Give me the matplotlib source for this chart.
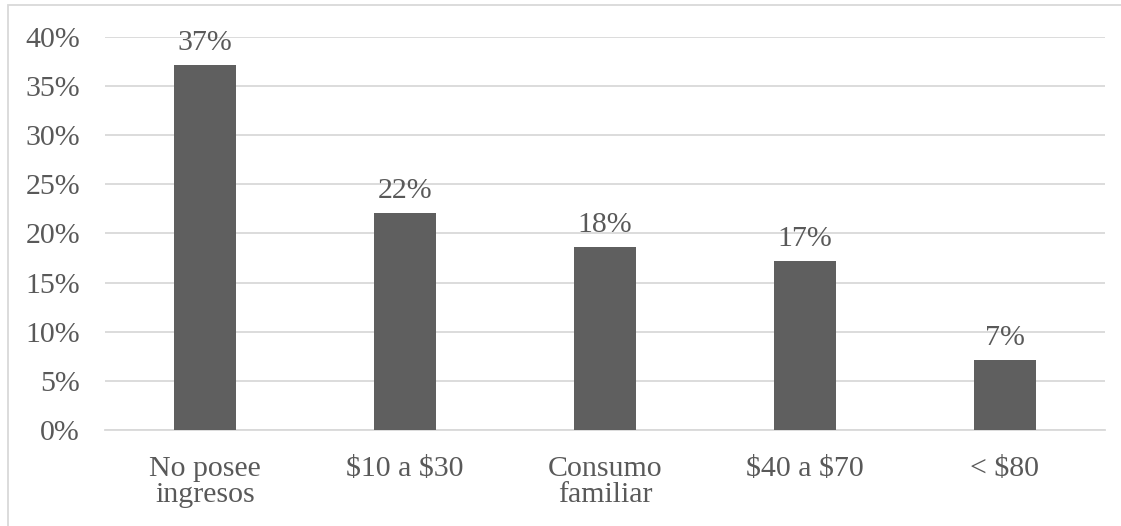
import matplotlib
matplotlib.use("Agg")
import matplotlib.pyplot as plt
from matplotlib.patches import Rectangle

categories = ["No posee\ningresos", r"\$10 a \$30", "Consumo\nfamiliar", r"\$40 a \$70", r"< \$80"]
values = [37.1, 22.1, 18.6, 17.2, 7.1]
labels = ["37%", "22%", "18%", "17%", "7%"]
yticks = [0, 5, 10, 15, 20, 25, 30, 35, 40]

plt.rcParams['font.family'] = ['Liberation Serif', 'DejaVu Serif']
TXT = '#595959'
GRID = '#d9d9d9'
FS = 21.5

fig = plt.figure(figsize=(11.21, 5.26), dpi=100)
ax = fig.add_axes([0.0937, 0.1825, 0.892, 0.7472])

x = range(len(categories))
ax.bar(x, values, width=0.31, color='#5f5f5f', zorder=3)
for xi, v, lab in zip(x, values, labels):
    ax.text(xi, v + 0.95, lab, ha='center', va='bottom', fontsize=FS, color=TXT)

ax.set_ylim(0, 40)
ax.set_xlim(-0.5, len(categories) - 0.5)
ax.set_yticks(yticks)
ax.set_yticklabels([f"{t}%" for t in yticks], fontsize=FS, color=TXT)
ax.set_xticks(list(x))
ax.set_xticklabels(categories, fontsize=FS, color=TXT, linespacing=1.0)
ax.tick_params(length=0)
ax.tick_params(axis='x', pad=19)
ax.tick_params(axis='y', pad=18)
ax.yaxis.grid(True, color=GRID, linewidth=1.3, zorder=0)
for s in ['top', 'right', 'left']:
    ax.spines[s].set_visible(False)
ax.spines['bottom'].set_color(GRID)
ax.spines['bottom'].set_linewidth(1.3)

fig.patches.append(Rectangle((8 / 1121, -0.01), 1.02, (526 - 5) / 526 + 0.01,
                             transform=fig.transFigure, fill=False,
                             edgecolor=GRID, linewidth=1.3))

fig.savefig("out.png", dpi=100)
